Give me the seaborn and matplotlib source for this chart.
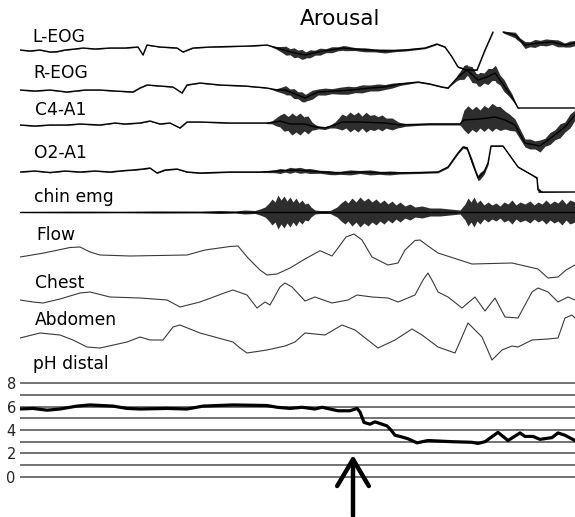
import numpy as np
import matplotlib
matplotlib.use("Agg")
import matplotlib.pyplot as plt
import seaborn as sns

# ---------------- data (time in samples, 0..555; signal in display units, up = positive) ----
# slow component of each trace
leog_t = [0, 10, 20, 30, 37, 45, 55, 63, 75, 90, 105, 118, 123, 127, 140, 157, 163, 173, 190, 210,
          230, 247, 257, 267, 275, 285, 298, 310, 323, 340, 365, 385, 405, 417, 425, 432, 438, 447,
          457, 465, 473, 478, 483, 487, 495, 505, 518, 532, 545, 555]
leog_v = [0, -1, 0, -2, -1.7, 0, 1, 2, 1, 2, 2, 3, -5, 5, 3, 2, -2, 2, 3, 3.5,
          4, 5, 2, -1, -3, -5, -2, 0, 2, 0.5, -1, 0, 2, 6, 3, -7, -17, -20,
          -20, 0, 18, np.nan, 18, 17, 15, 5, 7, 8, 5, 7]

reog_t = [0, 15, 30, 47, 65, 80, 95, 113, 120, 127, 140, 153, 162, 167, 180, 200, 225, 247, 257, 265,
          275, 285, 298, 315, 332, 350, 365, 380, 398, 410, 422, 428, 438, 447, 458, 467, 475, 485,
          492, 498, 500, 555]
reog_v = [0, -1, 0, -2, 0, 0, -1, -2, 2, 5, 4, 3, -3, 5, 7, 5, 4, 2, 0, 0,
          -4, -8, -2, -1, 0, 2, 3, 6, 8, 6, 3, 2, 13, 20, 10, 13, 17, 3,
          -7, -18, -18, -18]

c4_t = [0, 15, 30, 47, 60, 80, 95, 105, 120, 130, 140, 150, 160, 167, 180, 210, 235, 247, 255, 260,
        270, 285, 295, 305, 315, 322, 340, 365, 380, 410, 440, 444, 460, 475, 485, 495, 505, 520,
        532, 545, 555]
c4_v = [0, -1, 0, 0, 1, 0, 2, 1, 2, 4, 1, 2, -3, 3, 3, 2, 2, 2, 3, 4,
        1, 1, -2, -3, 0, 3, 3, 2, 0, 1, 1, 5, 6, 8, 5, 0, -18, -21,
        -12, -2, 10]

o2_t = [0, 15, 30, 45, 60, 75, 90, 105, 113, 123, 130, 137, 145, 157, 167, 180, 210, 240, 260, 275,
        290, 315, 340, 365, 400, 418, 428, 438, 443, 447, 455, 458, 464, 468, 471, 483, 488, 498,
        512, 517, 518, 522, 555]
o2_v = [0, 1, -0.5, 1, 0, 1, 0, 1.5, 2, 3, 4, -1, 2, 3, 0, -1, 0, 0, 1, 2,
        1, -1, 0, -1, -0.5, 0, 5, 19, 25, 24, 2, -6, 0, 9, 26, 26, 19, 5,
        -3, -6, -18, -20, -20]

chin_t = [0, 555]
chin_v = [0, 0]

# half-width of the fast (noisy) activity riding on each trace
leog_nt = [0, 250, 257, 262, 266, 270, 274, 278, 282, 286, 290, 295, 300, 306, 312, 318, 325, 335,
           345, 355, 365, 375, 390, 410, 472, 483, 490, 496, 500, 505, 510, 515, 520, 526, 532, 538,
           544, 550, 555]
leog_na = [0.3, 0.3, 1.5, 3, 4.5, 3, 5, 3.5, 5, 3, 4, 2.5, 3.5, 2, 3, 2, 2.5, 1.5,
           2, 1.5, 2, 1.2, 1, 0.6, 0.5, 1, 2, 3, 2, 3.5, 2.5, 4, 2.5, 3.5, 2.5, 3.5,
           2, 3, 2.5]

reog_nt = [0, 250, 257, 262, 266, 270, 274, 278, 282, 286, 292, 298, 305, 312, 320, 328, 335, 342,
           350, 358, 365, 372, 380, 395, 430, 436, 440, 444, 448, 452, 456, 460, 464, 468, 472, 476,
           480, 484, 488, 492, 496, 500, 555]
reog_na = [0.3, 0.3, 1.5, 3, 4.5, 3, 5, 3.5, 5, 3.5, 4.5, 3, 3.5, 2.5, 3.5, 4, 3, 4,
           3, 3.5, 2.5, 2.5, 1.5, 0.6, 0.5, 2, 4, 7, 5, 8, 5, 7, 5, 8, 6, 8,
           5, 6, 4, 3, 1, 0, 0]

c4_nt = [0, 245, 252, 256, 260, 264, 268, 272, 276, 280, 284, 288, 292, 298, 310, 315, 318, 322,
         326, 330, 334, 338, 342, 346, 350, 354, 358, 362, 366, 372, 378, 385, 400, 440, 444, 448,
         452, 456, 460, 464, 468, 472, 476, 480, 485, 490, 495, 500, 505, 510, 515, 520, 525, 530,
         535, 540, 545, 550, 555]
c4_na = [0.3, 0.3, 1.5, 4, 6, 9, 7, 11, 8, 11, 7, 9, 4, 1.5, 1.5, 3, 5, 8,
         6, 10, 7, 10, 6, 10, 7, 8, 6, 8, 5, 6, 3, 1.5, 1, 1, 10, 14,
         10, 13, 9, 13, 10, 14, 11, 12, 9, 8, 6, 5, 4, 5, 4, 6, 4, 6,
         5, 7, 5, 7, 5]

o2_nt = [0, 240, 255, 260, 265, 270, 275, 280, 285, 290, 300, 310, 320, 330, 340, 350, 360, 370,
         380, 400, 420, 440, 447, 452, 456, 460, 464, 468, 471, 483, 498, 512, 516, 518, 522, 555]
o2_na = [0.3, 0.5, 1.5, 2.5, 1.5, 3, 2, 3, 2, 2.5, 1.5, 2, 1.5, 2.5, 1.5, 2.5, 1.5, 2,
         1.2, 1, 0.8, 1, 1.5, 3, 2, 3.5, 2.5, 2, 0.5, 0.5, 0.5, 0.5, 1, 2.5, 0.5, 0]

chin_nt = [0, 60, 100, 140, 180, 200, 215, 225, 235, 240, 245, 249, 252, 255, 258, 261, 264, 267,
           270, 273, 276, 279, 282, 285, 288, 291, 295, 300, 310, 317, 321, 325, 328, 332, 336, 340,
           344, 348, 352, 356, 360, 364, 368, 372, 376, 380, 385, 390, 395, 402, 410, 420, 430, 440,
           445, 448, 451, 454, 457, 460, 464, 468, 472, 476, 480, 484, 488, 492, 496, 500, 505, 510,
           514, 518, 522, 526, 530, 534, 538, 542, 546, 550, 555]
chin_na = [0.5, 0.8, 0.6, 1, 0.8, 1.5, 1, 2, 1.5, 3, 5, 9, 13, 10, 17, 12, 16, 11,
           15, 10, 14, 9, 12, 8, 9, 5, 2, 1.5, 1.5, 5, 9, 12, 9, 14, 10, 15,
           11, 14, 10, 13, 9, 12, 8, 11, 7, 10, 6, 8, 5, 6, 4, 4, 3, 2,
           8, 14, 10, 15, 9, 12, 7, 10, 7, 9, 6, 10, 8, 12, 7, 10, 8, 11,
           7, 10, 8, 12, 8, 11, 9, 13, 8, 12, 10]

flow_t = [0, 24, 50, 60, 70, 80, 110, 167, 185, 210, 218, 228, 240, 247, 257, 270, 285, 300, 312,
          318, 326, 334, 342, 352, 368, 378, 385, 395, 400, 408, 418, 452, 492, 505, 518, 528, 538,
          546, 555]
flow_v = [3, 7, 12.5, 13, 8, 5, 4, 5, 10, 13.5, 14, 2, -10, -15, -14, -8, 1, 9.3, 4,
          12, 23, 26, 20, 3, -5, -3, 10, 19.5, 20, 14, 7, -4, -3, -6, -9, -18, -17,
          -10, -5]

chest_t = [0, 13, 23, 40, 60, 70, 90, 120, 147, 160, 180, 207, 213, 227, 237, 245, 250, 260, 265,
           272, 285, 295, 312, 328, 337, 352, 368, 378, 395, 403, 408, 413, 418, 428, 442, 455, 465,
           475, 485, 498, 512, 518, 528, 538, 548, 555]
chest_v = [0, -2, -3, 1, 7, 8, 3, 2, 0, -7, -2, 8, 10, 5, -8, -2, -5, 13, 17,
           13, -1, 3, -3, 0, 5, 3, 2, -2, 5, 20, 27, 18, 8, 3, -8, 3, -11,
           2, -17, -18, 8, 12, 8, -2, 3, 0]

abd_t = [0, 20, 40, 53, 67, 80, 107, 120, 130, 143, 153, 160, 180, 213, 220, 227, 247, 265, 275,
         285, 305, 322, 335, 358, 375, 392, 402, 418, 435, 448, 462, 472, 482, 492, 498, 512, 528,
         538, 545, 552, 555]
abd_v = [2, 7, 5, 0, -7, -8, -2, 3, 0, 0, 13, 15, 7, -2, -8, -13, -10, -6, -2,
         7, 5, 15, 10, -8, 0, 11, 5, -7, -13, 17, 3, -20, -10, -6, -7, 0, 1,
         2, 22, 25, 22]

ph_t = [0, 13, 27, 40, 57, 70, 93, 107, 120, 147, 167, 183, 213, 247, 257, 270, 282, 295, 302, 318,
        330, 337, 340, 344, 350, 355, 362, 367, 371, 375, 380, 388, 397, 408, 432, 452, 458, 465,
        478, 488, 500, 505, 513, 520, 532, 538, 545, 555]
ph_v = [5.8, 5.85, 5.7, 5.8, 6.05, 6.15, 6.05, 5.85, 5.8, 5.85, 5.8, 6.05, 6.15, 6.1, 5.95, 5.85,
        5.95, 5.8, 5.95, 5.65, 5.65, 5.85, 5.55, 4.65, 4.5, 4.7, 4.5, 4.35, 4.0, 3.55, 3.45, 3.25,
        2.9, 3.1, 3.0, 2.95, 2.85, 3.0, 3.8, 3.1, 3.75, 3.45, 3.45, 3.2, 3.35, 3.75, 3.55, 3.1]
ph_ticks = [0, 2, 4, 6, 8]

labels = ["L-EOG", "R-EOG", "C4-A1", "O2-A1", "chin emg", "Flow", "Chest", "Abdomen", "pH distal"]

# ---------------- layout ----------------
W, H = 575, 517
sns.set_theme(style="white")
plt.rcParams["font.family"] = ["DejaVu Sans"]

fig = plt.figure(figsize=(W / 100, H / 100), dpi=100)
fig.patch.set_facecolor("white")

X0 = 20
ax = fig.add_axes([X0 / W, 0, (W - X0) / W, 1])
ax.set_xlim(0, 555)
ax.set_ylim(-H, 0)
ax.axis("off")

eeg = [
    (leog_t, leog_v, leog_nt, leog_na, 50),
    (reog_t, reog_v, reog_nt, reog_na, 90),
    (c4_t, c4_v, c4_nt, c4_na, 125),
    (o2_t, o2_v, o2_nt, o2_na, 172),
    (chin_t, chin_v, chin_nt, chin_na, 212),
]
for t, v, nt, na, base in eeg:
    t = np.asarray(t, float)
    y = np.asarray(v, float) - base
    nt = np.asarray(nt, float)
    na = np.asarray(na, float)
    ok = ~np.isnan(y)
    seg_id = np.cumsum(~ok)
    for s in np.unique(seg_id[ok]):
        m = ok & (seg_id == s)
        ts, ys = t[m], y[m]
        sns.lineplot(x=ts, y=ys, ax=ax, color="black", lw=1.0,
                     estimator=None, sort=False, legend=False)
        # band of fast activity drawn around the slow trace
        grid = np.union1d(ts, nt[(nt >= ts.min()) & (nt <= ts.max())])
        yc = np.interp(grid, ts, ys)
        ac = np.interp(grid, nt, na)
        ax.fill_between(grid, yc - ac, yc + ac, color="#111111", lw=0, alpha=0.88)

resp = [(flow_t, flow_v, 260), (chest_t, chest_v, 300), (abd_t, abd_v, 340)]
for t, v, base in resp:
    y = np.asarray(v, float) - base
    sns.lineplot(x=t, y=y, ax=ax, color="#3a3a3a", lw=0.8,
                 estimator=None, sort=False, legend=False)

# channel labels
label_pos = [(32, 42), (33, 78), (35, 115), (34, 158), (34, 202), (36, 240),
             (35, 288), (35, 325), (33, 369)]
for txt, (lx, ly) in zip(labels, label_pos):
    fig.text(lx / W, 1 - ly / H, txt, fontsize=12.3, va="baseline", ha="left", color="black")

fig.text(300 / W, 1 - 25 / H, "Arousal", fontsize=15.5, va="baseline", ha="left", color="black")

# ---------------- pH panel ----------------
unit = 11.67
y0_px = 476.7
lo, hi = -0.15, 8.15
bottom_px = y0_px - lo * unit
height_px = (hi - lo) * unit
axp = fig.add_axes([X0 / W, (H - bottom_px) / H, (W - X0) / W, height_px / H])
axp.set_facecolor("none")
axp.set_xlim(0, 555)
axp.set_ylim(lo, hi)
for k in range(9):
    axp.axhline(k, color="#5a5a5a", lw=1.2, zorder=1)
sns.lineplot(x=ph_t, y=ph_v, ax=axp, color="black", lw=2.3,
             estimator=None, sort=False, legend=False, zorder=3)
axp.set_yticks(ph_ticks)
axp.set_yticklabels([str(v) for v in ph_ticks])
axp.set_xticks([])
axp.tick_params(axis="y", length=0, pad=3, labelsize=10.5, colors="#222222")
axp.set_xlabel("")
axp.set_ylabel("")
for sp in axp.spines.values():
    sp.set_visible(False)
axp.grid(False)

# arrow marking the arousal
axo = fig.add_axes([0, 0, 1, 1])
axo.set_xlim(0, W)
axo.set_ylim(H, 0)
axo.axis("off")
axo.set_facecolor("none")
axo.annotate("", xy=(353, 455), xytext=(353, 516),
             arrowprops=dict(arrowstyle="->,head_length=1.6,head_width=0.95",
                             lw=3.2, color="black", shrinkA=0, shrinkB=0))

fig.savefig("out.png", dpi=100, facecolor="white")
